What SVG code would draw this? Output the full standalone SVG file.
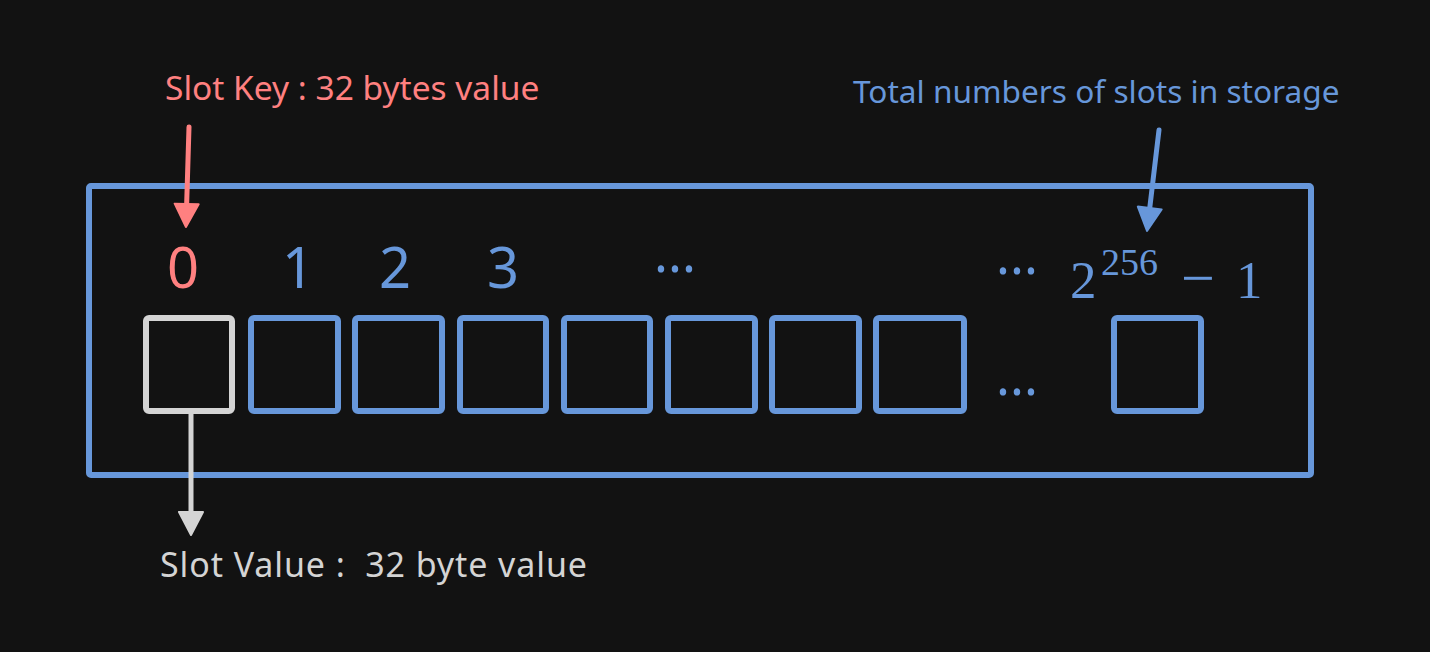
<svg xmlns="http://www.w3.org/2000/svg" width="1430" height="652" viewBox="0 0 1430 652">
<defs>
<style>
.bg{fill:#121212}
.slot{fill:none;stroke:#6797da;stroke-width:6}
.slot0{fill:none;stroke:#d4d4d4;stroke-width:6}
.frame{fill:none;stroke:#6797da;stroke-width:6}
.lbl{font-family:"Noto Sans","Open Sans",sans-serif}
.blue{fill:#6797da}
.red{fill:#ff8080}
.gray{fill:#d4d4d4}
.math{font-family:"Liberation Serif","DejaVu Serif",serif;fill:#6797da}
.conn{fill:none;stroke-width:5;stroke-linecap:round}
</style>
<marker id="ahRed" viewBox="0 0 26 28" refX="4" refY="14" markerWidth="26" markerHeight="28" markerUnits="userSpaceOnUse" orient="auto">
<path d="M2,2 L25,14 L2,26 Z" fill="#ff8080" stroke="#ff8080" stroke-width="2" stroke-linejoin="round"/>
</marker>
<marker id="ahBlue" viewBox="0 0 26 28" refX="4" refY="14" markerWidth="26" markerHeight="28" markerUnits="userSpaceOnUse" orient="auto">
<path d="M2,2 L25,14 L2,26 Z" fill="#6797da" stroke="#6797da" stroke-width="2" stroke-linejoin="round"/>
</marker>
<marker id="ahGray" viewBox="0 0 26 28" refX="4" refY="14" markerWidth="26" markerHeight="28" markerUnits="userSpaceOnUse" orient="auto">
<path d="M2,2 L25,14 L2,26 Z" fill="#d4d4d4" stroke="#d4d4d4" stroke-width="2" stroke-linejoin="round"/>
</marker>
</defs>
<rect class="bg" x="0" y="0" width="1430" height="652"/>

<g id="storage">
<rect class="frame" x="89" y="186" width="1222" height="289" rx="2"/>
</g>

<g id="slot-0"><rect class="slot0" x="146" y="318" width="86" height="93" rx="3"/><text class="lbl red" x="183" y="288" font-size="56" text-anchor="middle">0</text></g>
<g id="slot-1"><rect class="slot" x="251" y="318" width="87" height="93" rx="3"/><text class="lbl blue" x="298" y="288" font-size="56" text-anchor="middle">1</text></g>
<g id="slot-2"><rect class="slot" x="355" y="318" width="87" height="93" rx="3"/><text class="lbl blue" x="395" y="288" font-size="56" text-anchor="middle">2</text></g>
<g id="slot-3"><rect class="slot" x="460" y="318" width="86" height="93" rx="3"/><text class="lbl blue" x="503" y="288" font-size="56" text-anchor="middle">3</text></g>
<g id="slot-4"><rect class="slot" x="564" y="318" width="86" height="93" rx="3"/></g>
<g id="slot-5"><rect class="slot" x="668" y="318" width="87" height="93" rx="3"/></g>
<g id="slot-6"><rect class="slot" x="772" y="318" width="87" height="93" rx="3"/></g>
<g id="slot-7"><rect class="slot" x="876" y="318" width="88" height="93" rx="3"/></g>
<g id="slot-last"><rect class="slot" x="1114" y="318" width="87" height="93" rx="3"/>
<text class="math" y="298"><tspan x="1070" font-size="53">2</tspan><tspan x="1101" y="275" font-size="38">256</tspan><tspan x="1181" y="298" font-size="60">−</tspan><tspan x="1236" font-size="53">1</tspan></text>
</g>

<g id="ellipses">
<text class="lbl blue" x="675" y="272" font-size="52" text-anchor="middle">...</text>
<text class="lbl blue" x="1017" y="274" font-size="52" text-anchor="middle">...</text>
<text class="lbl blue" x="1017" y="395" font-size="52" text-anchor="middle">...</text>
</g>

<g id="label-key"><text class="lbl red" x="165" y="100" font-size="33.5">Slot Key : 32 bytes value</text></g>
<g id="label-total"><text class="lbl blue" x="853" y="103" font-size="31.6">Total numbers of slots in storage</text></g>
<g id="label-value"><text class="lbl gray" x="160" y="577" font-size="34" xml:space="preserve" textLength="427" lengthAdjust="spacing">Slot Value :  32 byte value</text></g>

<g id="connectors">
<line class="conn" x1="189" y1="127" x2="186.6" y2="206" stroke="#ff8080" marker-end="url(#ahRed)"/>
<line class="conn" x1="1159" y1="130" x2="1149.5" y2="210" stroke="#6797da" marker-end="url(#ahBlue)"/>
<line class="conn" x1="191" y1="414" x2="191" y2="514" stroke="#d4d4d4" marker-end="url(#ahGray)"/>
</g>
</svg>
